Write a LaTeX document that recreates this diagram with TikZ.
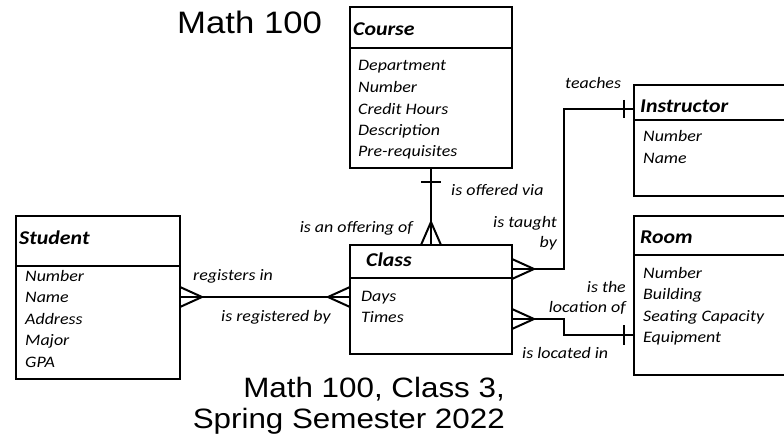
\documentclass[tikz,border=0pt]{standalone}
\usepackage{fontspec}
\setmainfont{Carlito}[FakeStretch=1.12]
\newfontfamily\headfont{Liberation Sans}[FakeStretch=1.12]
\usetikzlibrary{positioning, calc}

\tikzset{
  ebox/.style={draw, line width=2pt, inner sep=0pt, outer sep=0pt},
  etitle/.style={font=\fontsize{19.5}{22}\selectfont\bfseries\itshape, anchor=base west, inner sep=0pt},
  eattr/.style={font=\fontsize{16}{20}\selectfont\itshape, anchor=base west, inner sep=0pt},
  rel/.style={font=\fontsize{16}{20}\selectfont\itshape, inner sep=0pt},
  link/.style={line width=2pt},
  bigtext/.style={font=\headfont, inner sep=0pt}
}

\begin{document}
\begin{tikzpicture}[x=1pt, y=-1pt]
    \useasboundingbox (0,0) rectangle (784,441);
    \clip (0,0) rectangle (784,441);

    % entities
    \node[ebox, anchor=north west, minimum width=162, minimum height=41] (courseHead) at (350,7) {};
    \node[ebox, minimum width=162, minimum height=120, below=0pt of courseHead] (courseBody) {};
    \node[ebox, anchor=north west, minimum width=162, minimum height=33] (classHead) at (350,245) {};
    \node[ebox, minimum width=162, minimum height=76, below=0pt of classHead] (classBody) {};
    \node[ebox, anchor=north west, minimum width=164, minimum height=50] (studentHead) at (16,216) {};
    \node[ebox, minimum width=164, minimum height=113, below=0pt of studentHead] (studentBody) {};
    \node[ebox, anchor=north west, minimum width=200, minimum height=35] (instrHead) at (634,85) {};
    \node[ebox, minimum width=200, minimum height=76, below=0pt of instrHead] (instrBody) {};
    \node[ebox, anchor=north west, minimum width=200, minimum height=39] (roomHead) at (634,216) {};
    \node[ebox, minimum width=200, minimum height=120, below=0pt of roomHead] (roomBody) {};

    \node[etitle] (courseTitle) at (353,36) {Course};
    \node[etitle] (classTitle) at (366,266) {Class};
    \node[etitle] (studentTitle) at (19,244) {Student};
    \node[etitle] (instrTitle) at (640,113) {Instructor};
    \node[etitle] (roomTitle) at (640,243) {Room};

    \foreach \a [count=\i from 0] in {Department, Number, Credit Hours, Description, Pre-requisites}
        \node[eattr] (courseAttr\i) at (358, {71+21.5*\i}) {\a};
    \foreach \a [count=\i from 0] in {Days, Times}
        \node[eattr] (classAttr\i) at (361, {301+21*\i}) {\a};
    \foreach \a [count=\i from 0] in {Number, Name, Address, Major, GPA}
        \node[eattr] (studentAttr\i) at (25, {281+21.5*\i}) {\a};
    \foreach \a [count=\i from 0] in {Number, Name}
        \node[eattr] (instrAttr\i) at (643, {142+21.5*\i}) {\a};
    \foreach \a [count=\i from 0] in {Number, Building, Seating Capacity, Equipment}
        \node[eattr] (roomAttr\i) at (643, {278+21.5*\i}) {\a};

    % course - class
    \draw[link] (courseBody.south) -- (classHead.north);
    \draw[link] ($(courseBody.south)+(-10,14)$) -- ++(20,0);
    \draw[link] ($(classHead.north)+(-10,0)$) -- ($(classHead.north)+(0,-23)$) -- ($(classHead.north)+(10,0)$);

    % student - class
    \coordinate (regLeft) at ($(studentBody.north east)+(0,31)$);
    \coordinate (regRight) at ($(classBody.north west)+(0,19)$);
    \draw[link] (regLeft) -- (regRight);
    \draw[link] ($(regLeft)+(0,-10)$) -- ($(regLeft)+(22,0)$) -- ($(regLeft)+(0,10)$);
    \draw[link] ($(regRight)+(0,-10)$) -- ($(regRight)+(-22,0)$) -- ($(regRight)+(0,10)$);

    % class - instructor
    \coordinate (teachLow) at ($(classHead.south east)+(0,-9)$);
    \coordinate (teachTop) at ($(instrHead.south west)+(0,-11)$);
    \draw[link] (teachLow) -- ++(52,0) |- (teachTop);
    \draw[link] ($(teachTop)+(-10,-9)$) -- ++(0,18);
    \draw[link] ($(teachLow)+(0,-10)$) -- ($(teachLow)+(22,0)$) -- ($(teachLow)+(0,10)$);

    % class - room
    \coordinate (locLow) at ($(classBody.north east)+(0,41)$);
    \coordinate (locRoom) at ($(roomBody.north west)+(0,80)$);
    \draw[link] (locLow) -- ++(52,0) |- (locRoom);
    \draw[link] ($(locRoom)+(-10,-10)$) -- ++(0,20);
    \draw[link] ($(locLow)+(0,-10)$) -- ($(locLow)+(22,0)$) -- ($(locLow)+(0,10)$);

    % relationship labels
    \node[rel, anchor=base west] (lblOffered) at (451,195) {is offered via};
    \node[rel, anchor=base east] (lblOffering) at (413,232) {is an offering of};
    \node[rel, anchor=base west] (lblRegisters) at (193,280) {registers in};
    \node[rel, anchor=base west] (lblRegistered) at (221,321) {is registered by};
    \node[rel, anchor=base west] (lblTeaches) at (565,89) {teaches};
    \node[rel, anchor=base east, align=right] (lblTaught) at (557,247) {is taught\\by};
    \node[rel, anchor=base east, align=right] (lblLocation) at (626,312) {is the\\location of};
    \node[rel, anchor=base west] (lblLocated) at (522,358) {is located in};

    % titles
    \node[bigtext, anchor=base west, font=\headfont\fontsize{31}{34}\selectfont] (mathTitle) at (177,34) {Math 100};
    \node[bigtext, anchor=base east, align=right, font=\headfont\fontsize{28}{31}\selectfont] (classTerm) at (505,428) {Math 100, Class 3,\\Spring Semester 2022};
\end{tikzpicture}
\end{document}
